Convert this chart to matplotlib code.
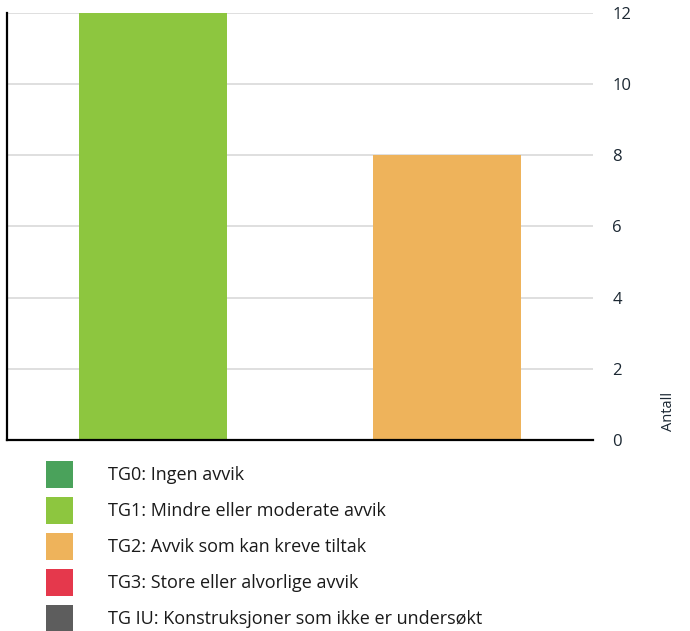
import matplotlib.pyplot as plt
from matplotlib.patches import Patch

plt.rcParams['font.family'] = ['Open Sans', 'DejaVu Sans']

# data
kategorier = ['TG1', 'TG2']
antall = [12, 8]
bar_farger = ['#8dc63f', '#eeb35b']

legend_tekst = ['TG0: Ingen avvik',
                'TG1: Mindre eller moderate avvik',
                'TG2: Avvik som kan kreve tiltak',
                'TG3: Store eller alvorlige avvik',
                'TG IU: Konstruksjoner som ikke er undersøkt']
legend_farger = ['#4aa25b', '#8dc63f', '#eeb35b', '#e5384c', '#5d5d5d']
y_ticks = [0, 2, 4, 6, 8, 10, 12]

fig = plt.figure(figsize=(6.9, 6.31), dpi=100)
ax = fig.add_axes([0.0101, 0.3027, 0.8494, 0.6767])

x = range(len(kategorier))
ax.bar(x, antall, width=0.505, color=bar_farger, zorder=3)
ax.set_xlim(-0.5, 1.5)
ax.set_ylim(0, 12)
ax.set_xticks([])
ax.set_yticks(y_ticks)
ax.yaxis.tick_right()
ax.tick_params(axis='y', length=0, pad=14, labelsize=12, labelcolor='#1c2833')
ax.grid(axis='y', color='#d9d9d9', lw=1.2, zorder=0)

for s in ['top', 'right']:
    ax.spines[s].set_visible(False)
for s in ['left', 'bottom']:
    ax.spines[s].set_color('black')
    ax.spines[s].set_linewidth(1.6)
    ax.spines[s].set_zorder(4)

fig.text(668/690, 1 - 431/631, 'Antall', rotation=90, ha='center', va='bottom',
         fontsize=10.5, color='#1c2833')

# legend with all condition grades
handles = [Patch(facecolor=c, edgecolor='none') for c in legend_farger]
fig.legend(handles, legend_tekst, loc='upper left',
           bbox_to_anchor=(46/690, 1 - 461/631), frameon=False,
           fontsize=13, handlelength=1.495, handleheight=1.923,
           handletextpad=1.94, labelspacing=0.5, borderpad=0, borderaxespad=0,
           labelcolor='#1a1a1a')

plt.savefig('out.png', dpi=100)
